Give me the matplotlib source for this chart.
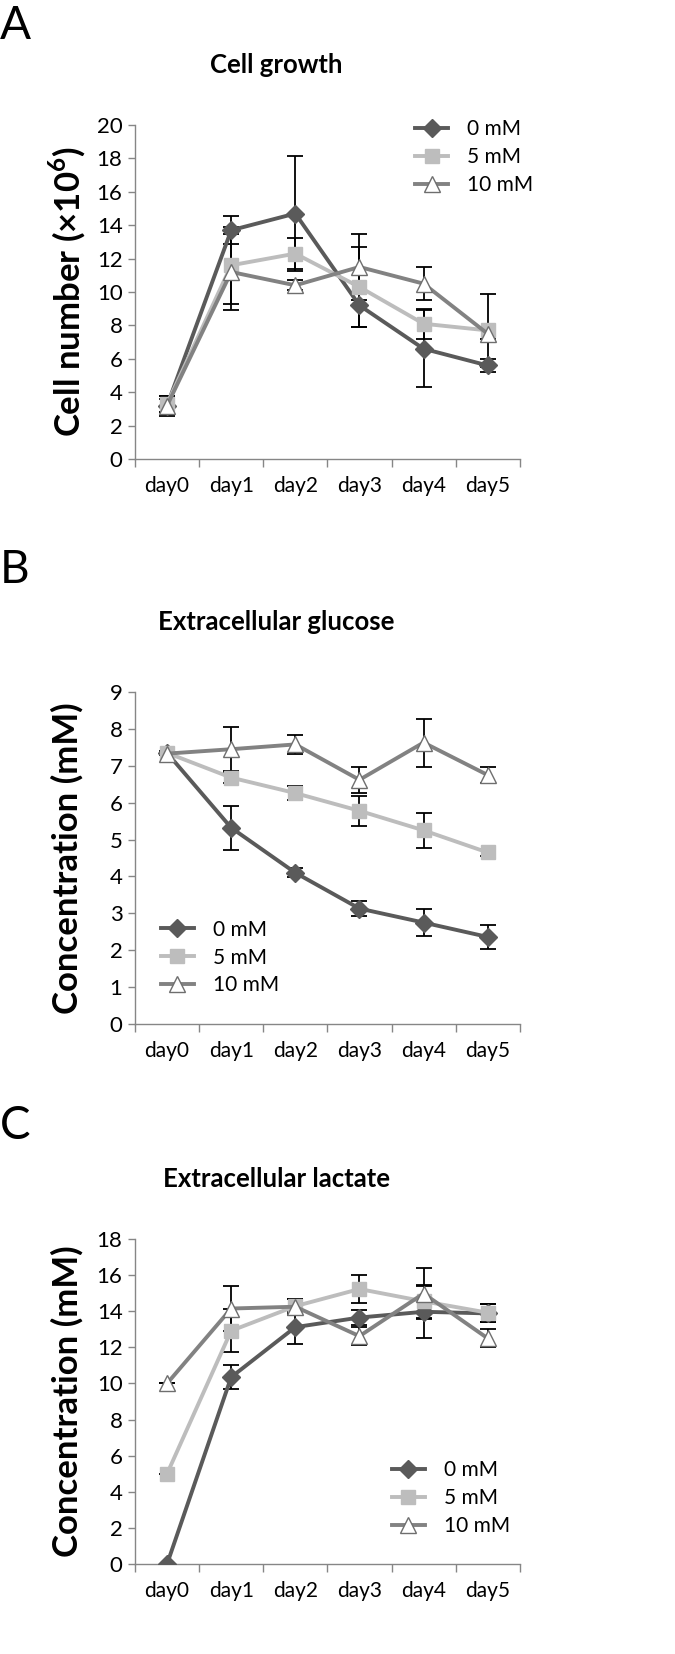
import numpy as np
import matplotlib
matplotlib.use("Agg")
import matplotlib.pyplot as plt

plt.rcParams['font.family'] = ['Lato', 'DejaVu Sans']
plt.rcParams['mathtext.fontset'] = 'custom'
plt.rcParams['mathtext.rm'] = 'Lato'
plt.rcParams['mathtext.bf'] = 'Lato:bold'

days = ['day0', 'day1', 'day2', 'day3', 'day4', 'day5']
series = ['0 mM', '5 mM', '10 mM']

# A: cell growth (x10^6)
growth_0 = [3.2, 13.7, 14.7, 9.2, 6.6, 5.6]
growth_0_err = [0.6, 0.85, 3.45, 1.3, 2.3, 0.4]
growth_5 = [3.3, 11.6, 12.3, 10.3, 8.1, 7.7]
growth_5_err = [0.5, 2.3, 0.95, 2.4, 0.9, 2.2]
growth_10 = [3.2, 11.2, 10.4, 11.5, 10.5, 7.5]
growth_10_err = [0.4, 2.3, 0.3, 2.0, 1.0, 0.3]

# B: extracellular glucose (mM)
gluc_0 = [7.35, 5.32, 4.1, 3.13, 2.75, 2.36]
gluc_0_err = [0.05, 0.6, 0.12, 0.2, 0.36, 0.32]
gluc_5 = [7.35, 6.68, 6.26, 5.78, 5.25, 4.65]
gluc_5_err = [0.05, 0.15, 0.2, 0.4, 0.47, 0.1]
gluc_10 = [7.33, 7.45, 7.58, 6.62, 7.63, 6.75]
gluc_10_err = [0.05, 0.6, 0.25, 0.35, 0.65, 0.22]

# C: extracellular lactate (mM)
lac_0 = [0.0, 10.35, 13.12, 13.65, 13.97, 13.88]
lac_0_err = [0.0, 0.68, 0.92, 0.43, 1.45, 0.5]
lac_5 = [5.0, 12.92, 14.28, 15.23, 14.55, 13.92]
lac_5_err = [0.0, 1.2, 0.4, 0.8, 0.9, 0.5]
lac_10 = [10.0, 14.15, 14.25, 12.62, 14.98, 12.5]
lac_10_err = [0.0, 1.24, 0.45, 0.5, 1.4, 0.5]

colors = ['#5a5a5a', '#bdbdbd', '#828282']
markers = ['D', 's', '^']
mfaces = ['#5a5a5a', '#bdbdbd', 'white']
msizes = [9, 10, 11]

panels = [
    dict(letter='A', title='Cell growth', ylabel=r'Cell number (×10$^{\mathbf{6}}$)',
         data=[(growth_0, growth_0_err), (growth_5, growth_5_err), (growth_10, growth_10_err)],
         ymax=20, ystep=2, rect=[0.200, 0.7225, 0.570, 0.2019],
         leg=(0.615, 0.928), letter_y=0.997, title_y=0.961),
    dict(letter='B', title='Extracellular glucose', ylabel='Concentration (mM)',
         data=[(gluc_0, gluc_0_err), (gluc_5, gluc_5_err), (gluc_10, gluc_10_err)],
         ymax=9, ystep=1, rect=[0.200, 0.3809, 0.570, 0.2007],
         leg=(0.238, 0.444), letter_y=0.668, title_y=0.624),
    dict(letter='C', title='Extracellular lactate', ylabel='Concentration (mM)',
         data=[(lac_0, lac_0_err), (lac_5, lac_5_err), (lac_10, lac_10_err)],
         ymax=18, ystep=2, rect=[0.200, 0.0544, 0.570, 0.1965],
         leg=(0.580, 0.117), letter_y=0.332, title_y=0.287),
]

fig = plt.figure(figsize=(6.75, 16.54), dpi=100)
x = np.arange(len(days))

for p in panels:
    ax = fig.add_axes(p['rect'])
    handles = []
    for i, (vals, err) in enumerate(p['data']):
        ax.errorbar(x, vals, yerr=err, fmt='none', ecolor='black',
                    elinewidth=1.3, capsize=6, capthick=1.3, zorder=2)
    for i, (vals, err) in enumerate(p['data']):
        h, = ax.plot(x, vals, color=colors[i], lw=2.8, marker=markers[i],
                     ms=msizes[i], mfc=mfaces[i], mec=colors[i] if i < 2 else '#6e6e6e',
                     mew=1.0, label=series[i], zorder=3 + i)
        handles.append(h)
    ax.set_xlim(-0.5, len(days) - 0.5)
    ax.set_ylim(0, p['ymax'])
    ax.set_yticks(np.arange(0, p['ymax'] + 0.1, p['ystep']))
    ax.set_xticks(np.arange(-0.5, len(days), 1.0))
    ax.set_xticklabels([])
    ax.set_xticks(x, minor=True)
    ax.set_xticklabels(days, minor=True)
    ax.tick_params(axis='x', which='major', length=6, width=1, color='#868686', direction='out')
    ax.tick_params(axis='x', which='minor', length=0, pad=12, labelsize=15)
    ax.tick_params(axis='y', length=5, width=1, color='#868686', labelsize=16, pad=4)
    for s in ['top', 'right']:
        ax.spines[s].set_visible(False)
    for s in ['left', 'bottom']:
        ax.spines[s].set_color('#868686')
        ax.spines[s].set_linewidth(1.0)
    fig.text(0.099, p['rect'][1] + p['rect'][3] / 2, p['ylabel'], rotation=90,
             ha='center', va='center', fontsize=25, fontweight='bold')
    fig.text(0.409, p['title_y'], p['title'], ha='center', va='center',
             fontsize=18.5, fontweight='bold')
    fig.text(0.0, p['letter_y'], p['letter'], ha='left', va='top', fontsize=33)
    fig.legend(handles=handles, loc='upper left', bbox_to_anchor=p['leg'],
               frameon=False, fontsize=15, handlelength=1.6, handletextpad=0.9,
               labelspacing=0.38, borderpad=0, borderaxespad=0)

fig.savefig('out.png', dpi=100)
